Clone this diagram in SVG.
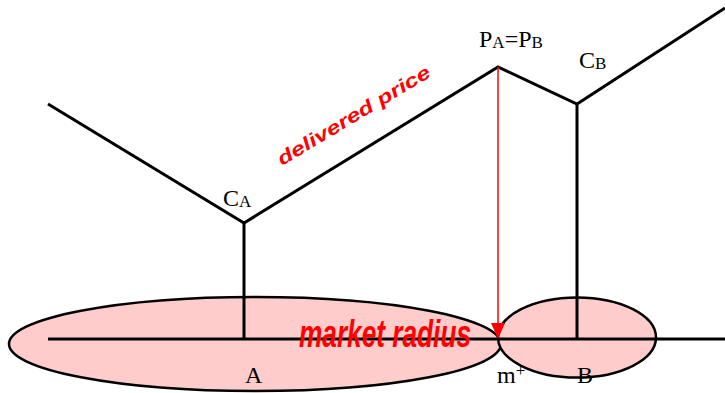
<svg xmlns="http://www.w3.org/2000/svg" width="725" height="393" viewBox="0 0 725 393">
<style>
.area{fill:#ffcccc;stroke:#000;stroke-width:2.5}
.ln{fill:none;stroke:#000;stroke-width:3;stroke-linejoin:miter}
.lbl{font-family:"Liberation Serif",serif;font-size:24px;fill:#000}
.sub{font-size:17px}
.red{font-family:"Liberation Sans",Arial,sans-serif;font-style:italic;fill:#ff0000}
</style>
<g id="areaA"><ellipse class="area" cx="255" cy="344" rx="246" ry="47"/></g>
<g id="areaB"><ellipse class="area" cx="577" cy="337.5" rx="79" ry="40"/></g>
<g id="connectors">
<line class="ln" x1="48" y1="339" x2="725" y2="339"/>
<line class="ln" x1="244" y1="223" x2="244" y2="339"/>
<line class="ln" x1="577" y1="104" x2="577" y2="339"/>
<polyline class="ln" points="48,104 244,223 498,67 577,104 725,8"/>
<line x1="498" y1="67" x2="498" y2="324" stroke="#ff0000" stroke-width="1.5"/>
<polygon points="491,323 505,323 498,339" fill="#ff0000"/>
</g>
<g id="labels">
<text class="lbl" x="479" y="47">P<tspan class="sub" dy="1">A</tspan><tspan dy="-1">=P</tspan><tspan class="sub" dy="1">B</tspan></text>
<text class="lbl" x="579" y="68">C<tspan class="sub" dy="1">B</tspan></text>
<text class="lbl" x="223" y="206">C<tspan class="sub" dy="1">A</tspan></text>
<text class="lbl" x="245" y="383">A</text>
<text class="lbl" x="497" y="383">m<tspan class="sub" dy="-7">+</tspan></text>
<text class="lbl" x="577" y="383">B</text>
<text class="red" x="282" y="166" font-size="19" font-weight="bold" textLength="175" lengthAdjust="spacingAndGlyphs" transform="rotate(-31 282 166)">delivered price</text>
<text class="red" x="299" y="347" font-size="39" font-weight="bold" textLength="172" lengthAdjust="spacingAndGlyphs">market radius</text>
</g>
</svg>
